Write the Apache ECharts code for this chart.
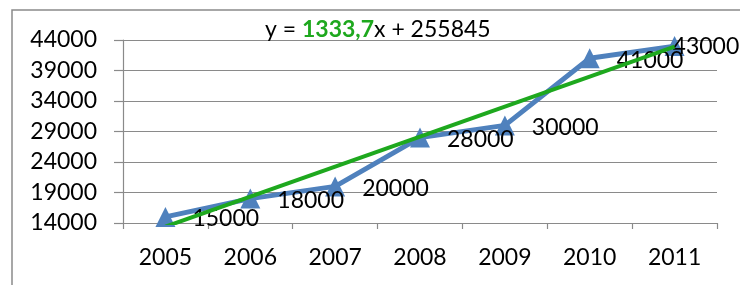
<!DOCTYPE html>
<html>
<head>
<meta charset="utf-8">
<script src="https://cdn.jsdelivr.net/npm/echarts@6/dist/echarts.min.js"></script>
<style>
  html, body { margin: 0; padding: 0; background: #fff; }
  #main { width: 740px; height: 285px; }
</style>
</head>
<body>
<div id="main"></div>
<script>
// data
var years = ['2005', '2006', '2007', '2008', '2009', '2010', '2011'];
var values = [15000, 18000, 20000, 28000, 30000, 41000, 43000];
// trend line: only its two ends, the rest is left empty
var trend = [13400, null, null, null, null, null, 42900];
var yTicks = [14000, 19000, 24000, 29000, 34000, 39000, 44000];

var font = 'Lato, "Open Sans", sans-serif';
var gray = '#8a8a8a';
var fs = 23;

function initChart() {
    var myChart = echarts.init(document.getElementById('main'));

    // the last label is pushed to the left, like in the original
    var seriesData = values.map(function (v, i) {
        if (i === values.length - 1) {
            return { value: v, label: { offset: [-29, 0] } };
        }
        return v;
    });

    var option = {
        animation: false,
        textStyle: { fontFamily: font },
        title: {
            left: 265,
            top: 18,
            padding: 0,
            text: '{a|y = }{g|1333,7}{a|x + 255845}',
            textStyle: {
                fontWeight: 'normal',
                rich: {
                    a: { fontFamily: font, fontSize: fs, color: '#000', fontWeight: 'normal' },
                    g: { fontFamily: font, fontSize: fs, color: '#1ea81e', fontWeight: 'bold' }
                }
            }
        },
        graphic: [{
            type: 'rect',
            shape: { x: 12, y: 10, width: 800, height: 400 },
            style: { fill: 'none', stroke: gray, lineWidth: 1.5 },
            silent: true
        }],
        grid: { left: 123, right: 23, top: 40, bottom: 62 },
        xAxis: {
            type: 'category',
            data: years,
            boundaryGap: true,
            axisLine: { lineStyle: { color: gray, width: 1.2 } },
            axisTick: { show: true, length: 6, lineStyle: { color: gray, width: 1.2 } },
            axisLabel: { color: '#000', fontSize: fs, fontFamily: font, margin: 23 }
        },
        yAxis: {
            type: 'value',
            min: yTicks[0],
            max: yTicks[yTicks.length - 1],
            interval: yTicks[1] - yTicks[0],
            axisLine: { show: true, lineStyle: { color: gray, width: 1.2 } },
            axisTick: { show: true, length: 9, lineStyle: { color: gray, width: 1.2 } },
            splitLine: { lineStyle: { color: gray, width: 1.2 } },
            axisLabel: {
                color: '#000', fontSize: fs, fontFamily: font, margin: 26,
                formatter: function (v) { return String(v); }
            }
        },
        series: [{
            type: 'line',
            data: seriesData,
            symbol: 'triangle',
            symbolSize: 20,
            showAllSymbol: true,
            lineStyle: { color: '#4f81bd', width: 5 },
            itemStyle: { color: '#4f81bd' },
            label: {
                show: true,
                position: 'right',
                distance: 17,
                offset: [0, 2],
                color: '#000',
                fontSize: fs,
                fontFamily: font
            },
            z: 2
        }, {
            type: 'line',
            data: trend,
            connectNulls: true,
            symbol: 'none',
            clip: true,
            lineStyle: { color: '#1ea81e', width: 4 },
            itemStyle: { color: '#1ea81e' },
            z: 3
        }]
    };

    myChart.setOption(option);
}

initChart();
</script>
</body>
</html>
